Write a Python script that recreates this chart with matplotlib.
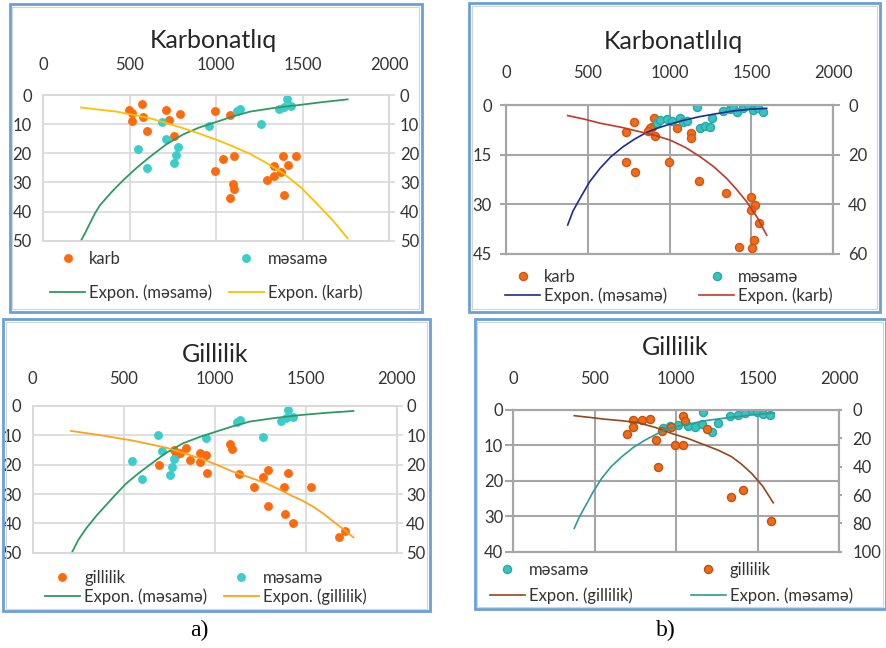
import matplotlib
matplotlib.use("Agg")
import matplotlib.pyplot as plt
from matplotlib.patches import Rectangle
from matplotlib.legend import Legend

W, H = 887, 648
plt.rcParams['font.family'] = ['Lato', 'DejaVu Sans']

# ---- panel a) top: Karbonatliq
a1_karb_x = [496, 516, 514, 571, 579, 598, 712, 727, 793, 754, 993, 1080, 1040, 1105, 993,
             1095, 1103, 1080, 1296, 1334, 1334, 1373, 1385, 1460, 1418, 1392]
a1_karb_y = [5.1, 6.1, 8.8, 3.1, 7.4, 12.2, 5.1, 8.6, 6.5, 14.0, 5.4, 7.0, 22.1, 20.9, 26.2,
             30.7, 32.4, 35.2, 29.2, 24.4, 27.8, 26.5, 20.9, 20.9, 23.9, 34.2]
a1_mes_x = [548, 598, 688, 710, 777, 768, 754, 957, 1119, 1138, 1261, 1362, 1392, 1408, 1431]
a1_mes_y = [18.6, 24.9, 9.4, 15.1, 17.7, 20.5, 23.2, 10.6, 5.4, 4.7, 10.0, 4.9, 4.2, 1.3, 3.8]
a1_fit_mes_x = [218, 245, 270, 300, 328, 400, 463, 540, 617, 710, 810, 900, 1003, 1100, 1196, 1340, 1485, 1620, 1761]
a1_fit_mes_y = [50, 47, 44, 40.5, 37.8, 33, 29.2, 25, 21.2, 17, 13.5, 11.2, 9.2, 7.3, 5.7, 4.4, 3.4, 2.4, 1.5]
a1_fit_karb_x = [218, 320, 424, 520, 617, 710, 810, 905, 1003, 1100, 1196, 1290, 1389, 1490, 1581, 1670, 1761]
a1_fit_karb_y = [4.3, 5.0, 5.7, 6.8, 8.0, 9.6, 11.4, 13.3, 15.4, 17.7, 20.2, 23.3, 26.9, 31.7, 37.2, 42.7, 49.2]

# ---- panel a) bottom: Gillilik
a2_gil_x = [694, 774, 807, 844, 862, 921, 921, 954, 958, 1083, 1097, 1132, 1215, 1266, 1294,
            1294, 1382, 1389, 1404, 1431, 1527, 1683, 1716, 785]
a2_gil_y = [20.1, 15.0, 16.1, 14.4, 18.4, 16.1, 19.0, 16.7, 22.9, 13.0, 14.8, 23.3, 27.7, 24.3, 21.8,
            34.1, 27.7, 36.8, 22.9, 40.0, 27.7, 44.8, 42.6, 16.7]
a2_mes_x = [543, 602, 688, 710, 774, 767, 752, 951, 1123, 1141, 1266, 1367, 1391, 1405, 1431]
a2_mes_y = [18.6, 25.0, 9.9, 15.3, 18.1, 20.7, 23.5, 11.0, 5.6, 4.8, 10.7, 5.1, 4.2, 1.4, 3.6]
a2_fit_mes_x = [215, 250, 294, 350, 404, 460, 514, 580, 642, 730, 826, 920, 1009, 1100, 1193, 1330, 1468, 1620, 1762]
a2_fit_mes_y = [50, 45.7, 41.7, 37.4, 33.7, 29.9, 26.4, 23.0, 20.1, 16.1, 12.7, 10.5, 8.7, 6.9, 5.3, 4.1, 3.1, 2.3, 1.7]
a2_fit_gil_x = [211, 367, 550, 734, 918, 1010, 1101, 1190, 1285, 1350, 1413, 1480, 1541, 1600, 1652, 1710, 1762]
a2_fit_gil_y = [8.5, 9.9, 11.8, 14.2, 17.8, 20.0, 22.4, 24.3, 26.4, 28.3, 30.3, 32.2, 34.3, 36.8, 39.4, 42.1, 44.8]

# ---- panel b) top: Karbonatlılıq
b1_karb_x = [782, 731, 904, 890, 880, 870, 910, 1043, 1130, 1130, 733, 790, 994, 1181, 1346,
             1495, 1523, 1499, 1543, 1513, 1501, 1426]
b1_karb_y = [5.2, 8.3, 4.0, 6.6, 7.1, 7.9, 9.3, 7.1, 8.6, 10.1, 17.4, 20.4, 17.2, 23.0, 26.7,
             27.7, 30.3, 31.8, 35.8, 40.9, 43.4, 42.9]
b1_mes_x = [921, 941, 982, 1012, 1063, 1084, 1104, 1165, 1185, 1216, 1246, 1257, 1328, 1369,
            1389, 1409, 1450, 1481, 1511, 1542, 1572]
b1_mes_y = [5.5, 4.5, 4.2, 4.8, 4.0, 5.0, 4.8, 0.7, 6.9, 6.3, 6.6, 4.0, 1.8, 1.2,
            1.0, 2.0, 0.8, 0.0, 1.5, 1.0, 2.0]
b1_fit_mes_x = [377, 410, 452, 510, 574, 640, 716, 790, 859, 920, 982, 1080, 1185, 1290, 1389, 1490, 1593]
b1_fit_mes_y = [36.3, 32.0, 28.3, 23.3, 19.2, 15.7, 12.6, 10.2, 8.3, 7.1, 6.1, 4.7, 3.5, 2.6, 1.8, 1.3, 1.0]
b1_fit_karb_x = [377, 480, 574, 700, 819, 910, 1002, 1095, 1185, 1270, 1348, 1410, 1471, 1535, 1593]
b1_fit_karb_y = [3.2, 4.3, 5.5, 6.7, 8.1, 9.2, 10.6, 12.8, 15.6, 18.7, 22.2, 25.6, 29.3, 34.0, 39.4]

# ---- panel b) bottom: Gillilik
b2_gil_x = [695, 732, 732, 787, 838, 914, 967, 873, 890, 992, 1043, 1043, 1053, 1186, 1333, 1411, 1579]
b2_gil_y = [6.9, 2.8, 4.7, 2.8, 2.6, 5.8, 4.7, 8.5, 16.2, 9.9, 9.9, 1.7, 3.0, 5.5, 24.7, 22.6, 31.2]
b2_mes_x = [1162, 920, 961, 1012, 1074, 1115, 1155, 1217, 1253, 1329, 1380, 1421, 1462, 1493, 1534, 1575]
b2_mes_y = [0.5, 5.2, 4.5, 4.2, 4.5, 4.7, 4.0, 6.1, 3.6, 1.7, 1.4, 0.9, 0.0, 0.5, 1.1, 1.4]
b2_fit_gil_x = [374, 470, 562, 660, 767, 870, 971, 1075, 1176, 1260, 1340, 1400, 1462, 1530, 1595]
b2_fit_gil_y = [1.6, 2.1, 2.6, 3.0, 3.6, 4.9, 6.6, 8.1, 9.9, 11.4, 13.2, 15.3, 17.9, 21.5, 26.2]
b2_fit_mes_x = [374, 405, 440, 490, 542, 600, 665, 735, 808, 870, 930, 1010, 1094, 1180, 1278, 1440, 1601]
b2_fit_mes_y = [33.4, 30.2, 27.3, 23.1, 19.3, 16.0, 13.2, 10.6, 8.5, 7.0, 5.6, 4.6, 3.8, 3.0, 2.4, 1.5, 0.8]

x_ticks = [0, 500, 1000, 1500, 2000]

fig = plt.figure(figsize=(W / 100, H / 100), dpi=100)


def frac(x0, y0, x1, y1):
    return [x0 / W, 1 - y1 / H, (x1 - x0) / W, (y1 - y0) / H]


def frame(x0, y0, x1, y1, color, lw):
    fig.patches.append(Rectangle((x0 / W, 1 - y1 / H), (x1 - x0) / W, (y1 - y0) / H,
                                 transform=fig.transFigure, fill=False,
                                 edgecolor=color, lw=lw))


def make_panel(box, border, title, title_xy, ylim, yticks, ylim_r, yticks_r, gc, glw,
               top_pad, lpad, llen, rpad, rlen):
    # chart border: blue outline with thin grey inner line
    frame(*border, '#6a9fd8', 2)
    frame(border[0] + 2.5, border[1] + 2.5, border[2] - 2.5, border[3] - 2.5, '#d4d4d4', 0.8)
    fig.text(title_xy[0] / W, 1 - title_xy[1] / H, title, ha='center', va='center',
             fontsize=18, color='#262626')
    ax = fig.add_axes(frac(*box))
    ax.set_xlim(0, 2000)
    ax.set_ylim(ylim, 0)
    ax.set_xticks(x_ticks)
    ax.set_yticks(yticks)
    ax.xaxis.tick_top()
    ax.grid(True, color=gc, lw=glw)
    ax.set_axisbelow(True)
    for s in ax.spines.values():
        s.set_color(gc)
        s.set_linewidth(glw)
    ax.tick_params(axis='x', length=0, pad=top_pad, labelsize=12, labelcolor='#333333')
    ax.tick_params(axis='y', length=llen, width=glw, color=gc, pad=lpad,
                   labelsize=12, labelcolor='#333333')
    axr = ax.twinx()
    axr.set_ylim(ylim_r, 0)
    axr.set_yticks(yticks_r)
    for s in axr.spines.values():
        s.set_color(gc)
        s.set_linewidth(glw)
    axr.tick_params(axis='y', length=rlen, width=glw, color=gc, pad=rpad,
                    labelsize=12, labelcolor='#333333')
    return ax


def legend_col(ax, handles, labels, x, y, spacing):
    leg = Legend(ax, handles, labels, loc='upper left', bbox_to_anchor=(x / W, 1 - y / H),
                 bbox_transform=fig.transFigure, frameon=False, borderpad=0,
                 borderaxespad=0, handlelength=2.1, handletextpad=0.25,
                 labelspacing=spacing, fontsize=12, numpoints=1)
    for t in leg.get_texts():
        t.set_color('#333333')
    ax.add_artist(leg)


# a) top
ax = make_panel((43.3, 95, 389, 240.7), (10, 4, 421.7, 311.7), 'Karbonatlıq', (213, 40),
                50, range(0, 51, 10), 50, range(0, 51, 10), '#d9d9d9', 1.2,
                15.5, 8.4, 0, 3.6, 4.3)
h1, = ax.plot(a1_karb_x, a1_karb_y, 'o', ms=6.4, color='#ff6a0d', mec='none', zorder=3)
h2, = ax.plot(a1_mes_x, a1_mes_y, 'o', ms=6.4, color='#3bcccc', mec='none', zorder=3)
h3, = ax.plot(a1_fit_mes_x, a1_fit_mes_y, color='#2e9a62', lw=1.3, zorder=4)
h4, = ax.plot(a1_fit_karb_x, a1_fit_karb_y, color='#ffc000', lw=1.3, zorder=4)
legend_col(ax, [h1, h3], ['karb', 'Expon. (məsamə)'], 50, 251, 1.05)
legend_col(ax, [h2, h4], ['məsamə', 'Expon. (karb)'], 229, 251, 1.05)

# a) bottom
ax = make_panel((32.7, 406, 396.7, 552.7), (3.3, 319, 430, 611), 'Gillilik', (215, 354),
                50, range(0, 51, 10), 50, range(0, 51, 10), '#d9d9d9', 1.2,
                13.7, 8, 0, 2.5, 4.3)
h1, = ax.plot(a2_gil_x, a2_gil_y, 'o', ms=6.4, color='#ff6a0d', mec='none', zorder=3)
h2, = ax.plot(a2_mes_x, a2_mes_y, 'o', ms=6.4, color='#3bcccc', mec='none', zorder=3)
h3, = ax.plot(a2_fit_mes_x, a2_fit_mes_y, color='#2e9a62', lw=1.3, zorder=4)
h4, = ax.plot(a2_fit_gil_x, a2_fit_gil_y, color='#ffa31a', lw=1.3, zorder=4)
legend_col(ax, [h1, h3], ['gillilik', 'Expon. (məsamə)'], 45, 570, 0.15)
legend_col(ax, [h2, h4], ['məsamə', 'Expon. (gillilik)'], 224, 570, 0.15)

# b) top
ax = make_panel((506, 105, 833.3, 253.7), (469.3, 3.3, 880, 311.7), 'Karbonatlılıq', (673, 41.7),
                45, range(0, 46, 15), 60, range(0, 61, 20), '#a6a6a6', 1.5,
                17, 5.8, 4.3, 5.8, 4.8)
h1, = ax.plot(b1_karb_x, b1_karb_y, 'o', ms=5.8, color='#f26a1b', mec='#d4570f', zorder=3)
h2, = ax.plot(b1_mes_x, b1_mes_y, 'o', ms=5.8, color='#35c4c0', mec='#2aa8a4', zorder=3)
h3, = ax.plot(b1_fit_mes_x, b1_fit_mes_y, color='#1f2b8f', lw=1.2, zorder=4)
h4, = ax.plot(b1_fit_karb_x, b1_fit_karb_y, color='#c0392b', lw=1.2, zorder=4)
legend_col(ax, [h1, h3], ['karb', 'Expon. (məsamə)'], 505, 269, 0.15)
legend_col(ax, [h2, h4], ['məsamə', 'Expon. (karb)'], 699, 269, 0.15)

# b) bottom
ax = make_panel((513.3, 410, 839.3, 551.7), (475, 319, 886, 609.3), 'Gillilik', (675, 347.7),
                40, range(0, 41, 10), 100, range(0, 101, 20), '#a6a6a6', 1.5,
                16.5, 1.5, 5.8, 7, 2.5)
h1, = ax.plot(b2_mes_x, b2_mes_y, 'o', ms=5.8, color='#35c4c0', mec='#2aa8a4', zorder=3)
h2, = ax.plot(b2_gil_x, b2_gil_y, 'o', ms=5.8, color='#f06a1a', mec='#c4520c', zorder=3)
h3, = ax.plot(b2_fit_gil_x, b2_fit_gil_y, color='#94461c', lw=1.2, zorder=4)
h4, = ax.plot(b2_fit_mes_x, b2_fit_mes_y, color='#2e9a9a', lw=1.2, zorder=4)
legend_col(ax, [h1, h3], ['məsamə', 'Expon. (gillilik)'], 490, 562, 0.55)
legend_col(ax, [h2, h4], ['gillilik', 'Expon. (məsamə)'], 690.7, 562, 0.55)

fig.text(199 / W, 1 - 630 / H, 'a)', ha='center', va='center', fontsize=17,
         family='Liberation Serif', color='black')
fig.text(666 / W, 1 - 630 / H, 'b)', ha='center', va='center', fontsize=17,
         family='Liberation Serif', color='black')

fig.savefig('out.png', dpi=100)
